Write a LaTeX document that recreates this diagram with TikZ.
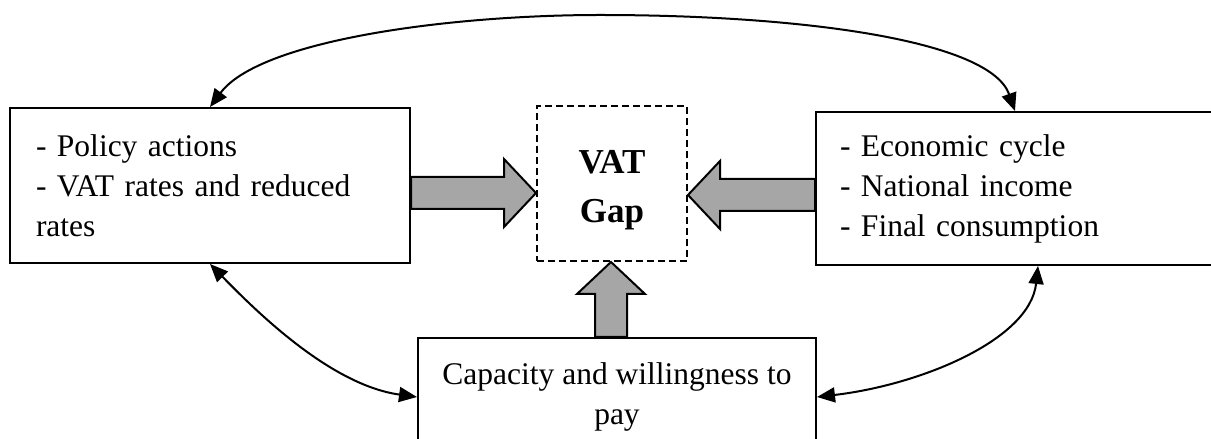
\documentclass[tikz,border=0pt]{standalone}
\usepackage{fontspec}
\setmainfont{Liberation Serif}
\usetikzlibrary{arrows.meta,calc}
\definecolor{arrowgray}{RGB}{166,166,166}
% broad grey arrow from #1 (tail) to #2 (tip)
\newcommand{\fatarrow}[2]{%
  \path ($(#2)!32pt!(#1)$) coordinate (fathead);
  \draw[fatarrow] ($(#1)!16pt!90:(#2)$) -- ($(fathead)!16pt!90:(#2)$) -- ($(fathead)!34pt!90:(#2)$)
    -- (#2) -- ($(fathead)!34pt!-90:(#2)$) -- ($(fathead)!16pt!-90:(#2)$) -- ($(#1)!16pt!-90:(#2)$) -- cycle;}

\begin{document}
\begin{tikzpicture}[x=1pt, y=1pt, >={Triangle[length=18pt,width=15pt]},
    box/.style={draw, line width=2pt, inner sep=0pt, font=\fontsize{31.5}{40}\selectfont},
    fatarrow/.style={draw, line width=2pt, fill=arrowgray, line join=miter},
    link/.style={<->, line width=2pt}]

    \useasboundingbox (0,0) rectangle (1211,439);

    \node[box, minimum width=400pt, minimum height=155pt, text width=348pt, align=left] (policy) at (210,253.5)
        {- Policy actions\\- VAT rates and reduced\\rates};
    \node[box, minimum width=398pt, minimum height=153pt, text width=350pt, align=left] (economy) at (1015,250.5)
        {- Economic cycle\\- National income\\- Final consumption};
    \node[box, dash pattern=on 7pt off 4pt, minimum width=150pt, minimum height=155pt, align=center,
        font=\fontsize{35}{49}\selectfont\bfseries] (gap) at (612,255.5)
        {\rule{0pt}{36pt}VAT\\Gap};
    \node[box, minimum width=398pt, minimum height=118pt, align=center] (capacity) at (617,42)
        {Capacity and willingness to\\pay};

    % grey arrows into the gap
    \coordinate (policyout) at ([yshift=-7.5pt]policy.east);
    \coordinate (economyout) at ([yshift=-6.5pt]economy.west);
    \coordinate (capacityout) at ([xshift=-6pt]capacity.north);
    \coordinate (policyin) at (policyout -| gap.west);
    \coordinate (economyin) at (economyout -| gap.east);
    \coordinate (capacityin) at (capacityout |- gap.south);
    \fatarrow{policyout}{policyin}
    \fatarrow{economyout}{economyin}
    \fatarrow{capacityout}{capacityin}

    % links between the factors
    \draw[link] (policy.north) .. controls (260,399) and (450,424) .. (600,424)
        .. controls (800,424) and (990,399) .. (economy.north);
    \draw[link] (policy.south) .. controls (255,129) and (330,54) .. (capacity.west);
    \draw[link] ([xshift=23pt]economy.south) .. controls (1030,99) and (920,54) .. (capacity.east);
\end{tikzpicture}
\end{document}
